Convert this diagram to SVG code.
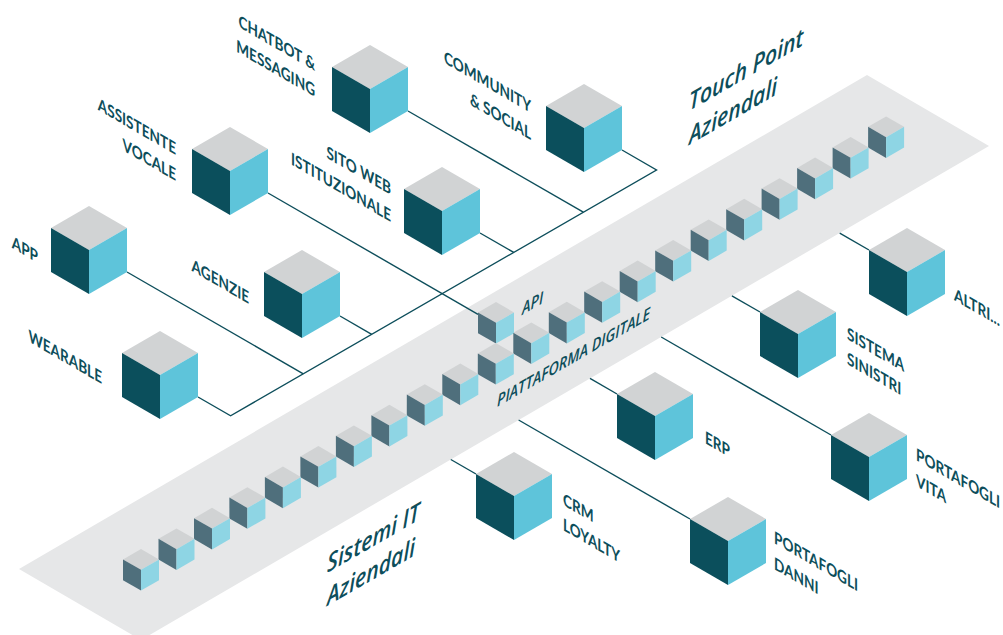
<svg xmlns="http://www.w3.org/2000/svg" width="1003" height="635" viewBox="0 0 1003 635">
  <defs>
    <style>
      .lbl{font-family:Lato,"Open Sans",sans-serif;font-weight:700;font-size:17px;fill:#0d4e5b}
      .end{text-anchor:end}
      .it{font-family:"Open Sans",Lato,sans-serif;font-style:italic;font-weight:600;fill:#0d4e5b}
      .big{font-size:24.5px}
      .sm{font-size:16.5px}
      .wire{fill:none;stroke:#0d4e5b;stroke-width:1.4}
      .ft{fill:#d1d3d4}
      .fl{fill:#0b4f5c}
      .fr{fill:#5ec4da}
      .sl{fill:#4f6f7c}
      .sr{fill:#8ed5e4}
    </style>
    <!-- large isometric cube, origin at the top vertex -->
    <g id="cube-l">
      <path class="ft" d="M0,0 L38,22 L0,44 L-38,22 Z"/>
      <path class="fl" d="M-38,22 L0,44 L0,88 L-38,66 Z"/>
      <path class="fr" d="M0,44 L38,22 L38,66 L0,88 Z"/>
    </g>
    <!-- small platform cube, origin at the top vertex -->
    <g id="cube-s">
      <path class="ft" d="M0,0 L18,10.4 L0,20.8 L-18,10.4 Z"/>
      <path class="sl" d="M-18,10.4 L0,20.8 L0,41.6 L-18,31.2 Z"/>
      <path class="sr" d="M0,20.8 L18,10.4 L18,31.2 L0,41.6 Z"/>
    </g>
  </defs>

  <rect width="1003" height="635" fill="#ffffff"/>

  <!-- platform band -->
  <polygon points="19,569 867,75 989,146 141,640" fill="#e6e7e8"/>

  <g id="connectors">
    <!-- touch point trunk -->
    <path class="wire" d="M622,150 L656.5,170 L230.6,415.8 L198,397"/>
    <path class="wire" d="M408,111 L583.3,212.2"/>
    <path class="wire" d="M480,233 L513.7,252.4"/>
    <path class="wire" d="M268,193 L478,314.3"/>
    <path class="wire" d="M340,316 L371.7,334.4"/>
    <path class="wire" d="M127,272 L303.3,373.9"/>
    <!-- enterprise systems -->
    <path class="wire" d="M839.7,233.1 L869,250"/>
    <path class="wire" d="M731.9,295.8 L760,312"/>
    <path class="wire" d="M661.2,337 L831,435"/>
    <path class="wire" d="M590,378.4 L617,394"/>
    <path class="wire" d="M518.6,420 L690,519"/>
    <path class="wire" d="M450.8,459.5 L476,474"/>
  </g>

  <g id="platform">
    <use href="#cube-s" x="496" y="302"/>
    <use href="#cube-s" x="886.1" y="116.4"/>
    <use href="#cube-s" x="850.6" y="137"/>
    <use href="#cube-s" x="815.1" y="157.6"/>
    <use href="#cube-s" x="779.6" y="178.2"/>
    <use href="#cube-s" x="744.2" y="198.8"/>
    <use href="#cube-s" x="708.7" y="219.4"/>
    <use href="#cube-s" x="673.2" y="240"/>
    <use href="#cube-s" x="637.7" y="260.6"/>
    <use href="#cube-s" x="602.2" y="281.2"/>
    <use href="#cube-s" x="566.8" y="301.8"/>
    <use href="#cube-s" x="531.3" y="322.4"/>
    <use href="#cube-s" x="495.8" y="343"/>
    <use href="#cube-s" x="460.3" y="363.6"/>
    <use href="#cube-s" x="424.8" y="384.2"/>
    <use href="#cube-s" x="389.4" y="404.8"/>
    <use href="#cube-s" x="353.9" y="425.4"/>
    <use href="#cube-s" x="318.4" y="446"/>
    <use href="#cube-s" x="282.9" y="466.6"/>
    <use href="#cube-s" x="247.4" y="487.2"/>
    <use href="#cube-s" x="212" y="507.8"/>
    <use href="#cube-s" x="176.5" y="528.4"/>
    <use href="#cube-s" x="141" y="549"/>
    <text class="it sm" transform="matrix(0.866 -0.5 0 1 522 315)">API</text>
    <text class="it sm" transform="matrix(0.866 -0.5 0 1 497 407)">PIATTAFORMA DIGITALE</text>
  </g>

  <g id="title-touchpoint">
    <text class="it big" transform="matrix(0.866 -0.5 0 1 689 111)"><tspan x="0" y="0">Touch Point</tspan><tspan x="0" y="34">Aziendali</tspan></text>
  </g>
  <g id="title-sistemi">
    <text class="it big" transform="matrix(0.866 -0.5 0 1 327 573)"><tspan x="0" y="0">Sistemi IT</tspan><tspan x="0" y="33">Aziendali</tspan></text>
  </g>

  <!-- touch point nodes -->
  <g id="node-chatbot">
    <use href="#cube-l" x="370" y="45"/>
    <text class="lbl end" transform="matrix(0.8 0.462 0 1 315 71)"><tspan x="0" y="0">CHATBOT &amp;</tspan><tspan x="0" y="26">MESSAGING</tspan></text>
  </g>
  <g id="node-community">
    <use href="#cube-l" x="584" y="84"/>
    <text class="lbl end" transform="matrix(0.8 0.462 0 1 531 113)"><tspan x="0" y="0">COMMUNITY</tspan><tspan x="0" y="27">&amp; SOCIAL</tspan></text>
  </g>
  <g id="node-assistente">
    <use href="#cube-l" x="230" y="127"/>
    <text class="lbl end" transform="matrix(0.8 0.462 0 1 176 155)"><tspan x="0" y="0">ASSISTENTE</tspan><tspan x="0" y="26">VOCALE</tspan></text>
  </g>
  <g id="node-sito">
    <use href="#cube-l" x="442" y="167"/>
    <text class="lbl end" transform="matrix(0.8 0.462 0 1 391 195)"><tspan x="0" y="0">SITO WEB</tspan><tspan x="0" y="27">ISTITUZIONALE</tspan></text>
  </g>
  <g id="node-app">
    <use href="#cube-l" x="89" y="206"/>
    <text class="lbl end" transform="matrix(0.8 0.462 0 1 38 263)">APP</text>
  </g>
  <g id="node-agenzie">
    <use href="#cube-l" x="302" y="250"/>
    <text class="lbl end" transform="matrix(0.8 0.462 0 1 249 304)">AGENZIE</text>
  </g>
  <g id="node-wearable">
    <use href="#cube-l" x="160" y="331"/>
    <text class="lbl end" transform="matrix(0.8 0.462 0 1 102 384)">WEARABLE</text>
  </g>

  <!-- enterprise system nodes -->
  <g id="node-altri">
    <use href="#cube-l" x="907" y="228"/>
    <text class="lbl" transform="matrix(0.8 0.462 0 1 954 300)">ALTRI...</text>
  </g>
  <g id="node-sinistri">
    <use href="#cube-l" x="798" y="290"/>
    <text class="lbl" transform="matrix(0.8 0.462 0 1 847 339)"><tspan x="0" y="0">SISTEMA</tspan><tspan x="0" y="25">SINISTRI</tspan></text>
  </g>
  <g id="node-erp">
    <use href="#cube-l" x="655" y="372"/>
    <text class="lbl" transform="matrix(0.8 0.462 0 1 705 443)">ERP</text>
  </g>
  <g id="node-vita">
    <use href="#cube-l" x="869" y="413"/>
    <text class="lbl" transform="matrix(0.8 0.462 0 1 916 460)"><tspan x="0" y="0">PORTAFOGLI</tspan><tspan x="0" y="26">VITA</tspan></text>
  </g>
  <g id="node-crm">
    <use href="#cube-l" x="514" y="452"/>
    <text class="lbl" transform="matrix(0.8 0.462 0 1 563 505)"><tspan x="0" y="0">CRM</tspan><tspan x="0" y="25">LOYALTY</tspan></text>
  </g>
  <g id="node-danni">
    <use href="#cube-l" x="728" y="497"/>
    <text class="lbl" transform="matrix(0.8 0.462 0 1 774 543)"><tspan x="0" y="0">PORTAFOGLI</tspan><tspan x="0" y="26">DANNI</tspan></text>
  </g>
</svg>
